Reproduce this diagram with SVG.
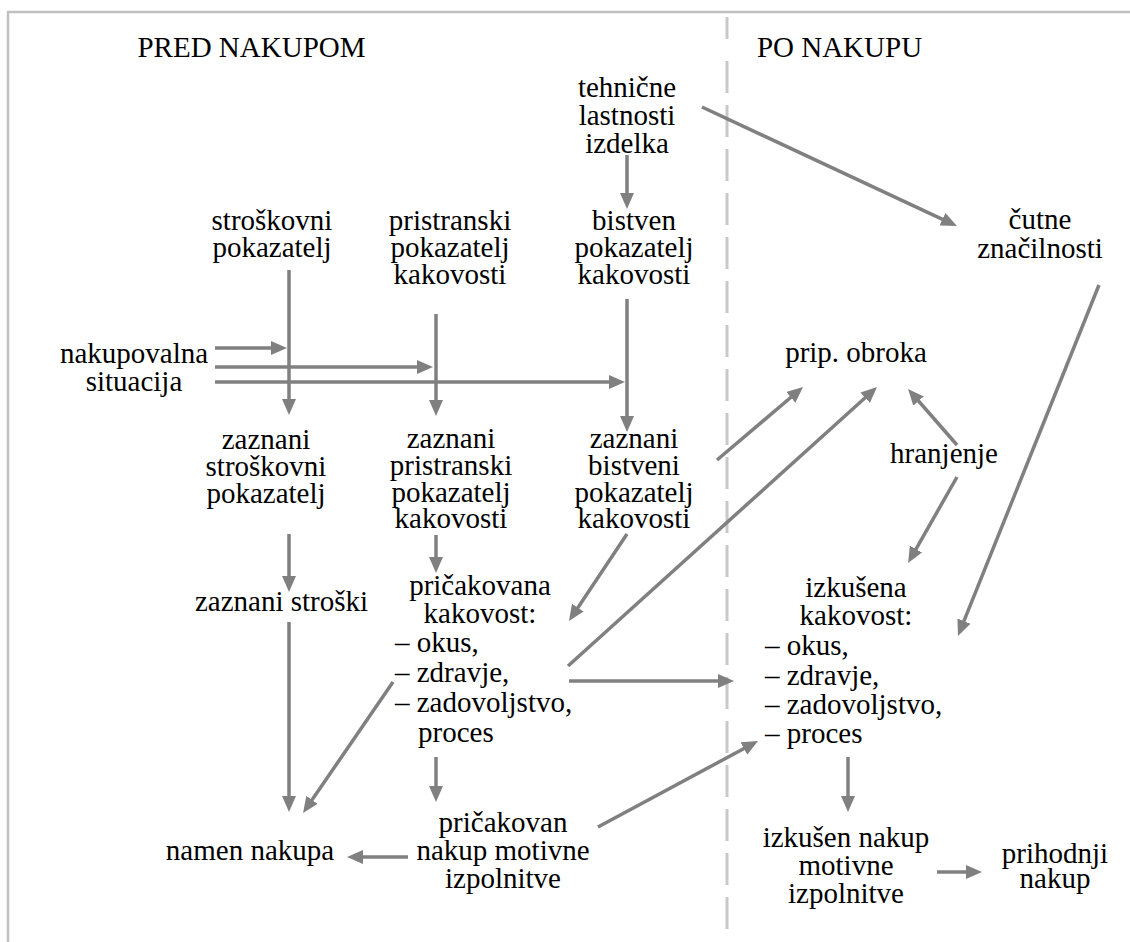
<svg xmlns="http://www.w3.org/2000/svg" width="1130" height="942" viewBox="0 0 1130 942">
<style>
text{font-family:"Liberation Serif","Times New Roman",serif;font-size:29px;fill:#000}
.c{text-anchor:middle}
.l{text-anchor:start}
.conn line,.conn path{stroke:#808080;stroke-width:3.5;fill:none;marker-end:url(#ah)}
</style>
<defs>
<marker id="ah" markerUnits="userSpaceOnUse" markerWidth="16" markerHeight="14" refX="6" refY="7" orient="auto" viewBox="0 0 16 14">
<path d="M0,0 L16,7 L0,14 z" fill="#808080"/>
</marker>
</defs>
<rect width="1130" height="942" fill="#fff"/>
<path d="M8,942 V12 H1130" fill="none" stroke="#c0c0c0" stroke-width="2.5"/>
<g id="divider" stroke="#c8c8c8" stroke-width="3" fill="none">
<line x1="727" y1="17" x2="727" y2="39"/>
<line x1="727" y1="61" x2="727" y2="929" stroke-dasharray="32 12"/>
</g>
<g id="title-pred"><text class="c" x="251.5" y="57">PRED NAKUPOM</text></g>
<g id="title-po"><text class="c" x="839.5" y="57">PO NAKUPU</text></g>

<g id="n-strosk"><text class="c" x="272" y="230">stroškovni</text><text class="c" x="272" y="257">pokazatelj</text></g>
<g id="n-pristr"><text class="c" x="450" y="230">pristranski</text><text class="c" x="450" y="257">pokazatelj</text><text class="c" x="450" y="284">kakovosti</text></g>
<g id="n-tehn"><text class="c" x="627" y="97">tehnične</text><text class="c" x="627" y="125">lastnosti</text><text class="c" x="627" y="153">izdelka</text></g>
<g id="n-bistven"><text class="c" x="634" y="230">bistven</text><text class="c" x="634" y="257">pokazatelj</text><text class="c" x="634" y="284">kakovosti</text></g>
<g id="n-cutne"><text class="c" x="1040" y="229">čutne</text><text class="c" x="1040" y="258">značilnosti</text></g>
<g id="n-nakupsit"><text class="c" x="134" y="363">nakupovalna</text><text class="c" x="134" y="391">situacija</text></g>
<g id="n-prip"><text class="c" x="856" y="362">prip. obroka</text></g>
<g id="n-zstrosk"><text class="c" x="266" y="449">zaznani</text><text class="c" x="266" y="476">stroškovni</text><text class="c" x="266" y="503">pokazatelj</text></g>
<g id="n-zpristr"><text class="c" x="451" y="448">zaznani</text><text class="c" x="451" y="475">pristranski</text><text class="c" x="451" y="502">pokazatelj</text><text class="c" x="451" y="528">kakovosti</text></g>
<g id="n-zbistv"><text class="c" x="634" y="448">zaznani</text><text class="c" x="634" y="475">bistveni</text><text class="c" x="634" y="502">pokazatelj</text><text class="c" x="634" y="528">kakovosti</text></g>
<g id="n-hranj"><text class="c" x="944" y="463">hranjenje</text></g>
<g id="n-zstroski"><text class="c" x="281.5" y="611">zaznani stroški</text></g>
<g id="n-prick"><text class="c" x="480" y="595">pričakovana</text><text class="c" x="480" y="623">kakovost:</text>
<text class="l" x="395" y="652">– okus,</text><text class="l" x="395" y="682">– zdravje,</text><text class="l" x="395" y="712">– zadovoljstvo,</text><text class="l" x="418" y="742">proces</text></g>
<g id="n-izkus"><text class="c" x="856" y="597">izkušena</text><text class="c" x="856" y="625">kakovost:</text>
<text class="l" x="765" y="655">– okus,</text><text class="l" x="765" y="685">– zdravje,</text><text class="l" x="765" y="714">– zadovoljstvo,</text><text class="l" x="765" y="743">– proces</text></g>
<g id="n-namen"><text class="c" x="250" y="860">namen nakupa</text></g>
<g id="n-pricnak"><text class="c" x="503" y="832">pričakovan</text><text class="c" x="503" y="860">nakup motivne</text><text class="c" x="503" y="888">izpolnitve</text></g>
<g id="n-izknak"><text class="c" x="846" y="847">izkušen nakup</text><text class="c" x="846" y="875">motivne</text><text class="c" x="846" y="903">izpolnitve</text></g>
<g id="n-prihod"><text class="c" x="1055" y="863">prihodnji</text><text class="c" x="1055" y="888">nakup</text></g>

<g id="connectors" class="conn">
<line x1="289" y1="270" x2="289" y2="405"/>
<line x1="215" y1="348" x2="277" y2="348"/>
<line x1="215" y1="367" x2="423" y2="367"/>
<line x1="215" y1="382" x2="615" y2="382"/>
<line x1="436" y1="314" x2="436" y2="406"/>
<line x1="627" y1="155" x2="627" y2="199"/>
<line x1="627" y1="299" x2="627" y2="422"/>
<line x1="702" y1="107" x2="947.9" y2="221.8"/>
<line x1="289" y1="534" x2="289" y2="582"/>
<line x1="289" y1="622" x2="289" y2="802"/>
<line x1="436" y1="535" x2="436" y2="563"/>
<line x1="627" y1="534" x2="574.5" y2="612.7"/>
<line x1="717" y1="460" x2="795.4" y2="393.5"/>
<line x1="568" y1="666" x2="869.6" y2="393.7"/>
<line x1="957" y1="445" x2="914.6" y2="396.5"/>
<line x1="957" y1="477" x2="913" y2="554.3"/>
<line x1="1099" y1="285" x2="961.7" y2="626.7"/>
<line x1="569" y1="681" x2="724" y2="681"/>
<line x1="393" y1="682" x2="308.7" y2="804.8"/>
<line x1="436" y1="757" x2="436" y2="792"/>
<line x1="408" y1="857" x2="357" y2="857"/>
<line x1="598" y1="827" x2="749.2" y2="745.7"/>
<line x1="848" y1="757" x2="848" y2="802"/>
<line x1="937" y1="872" x2="972" y2="872"/>
</g>
</svg>
